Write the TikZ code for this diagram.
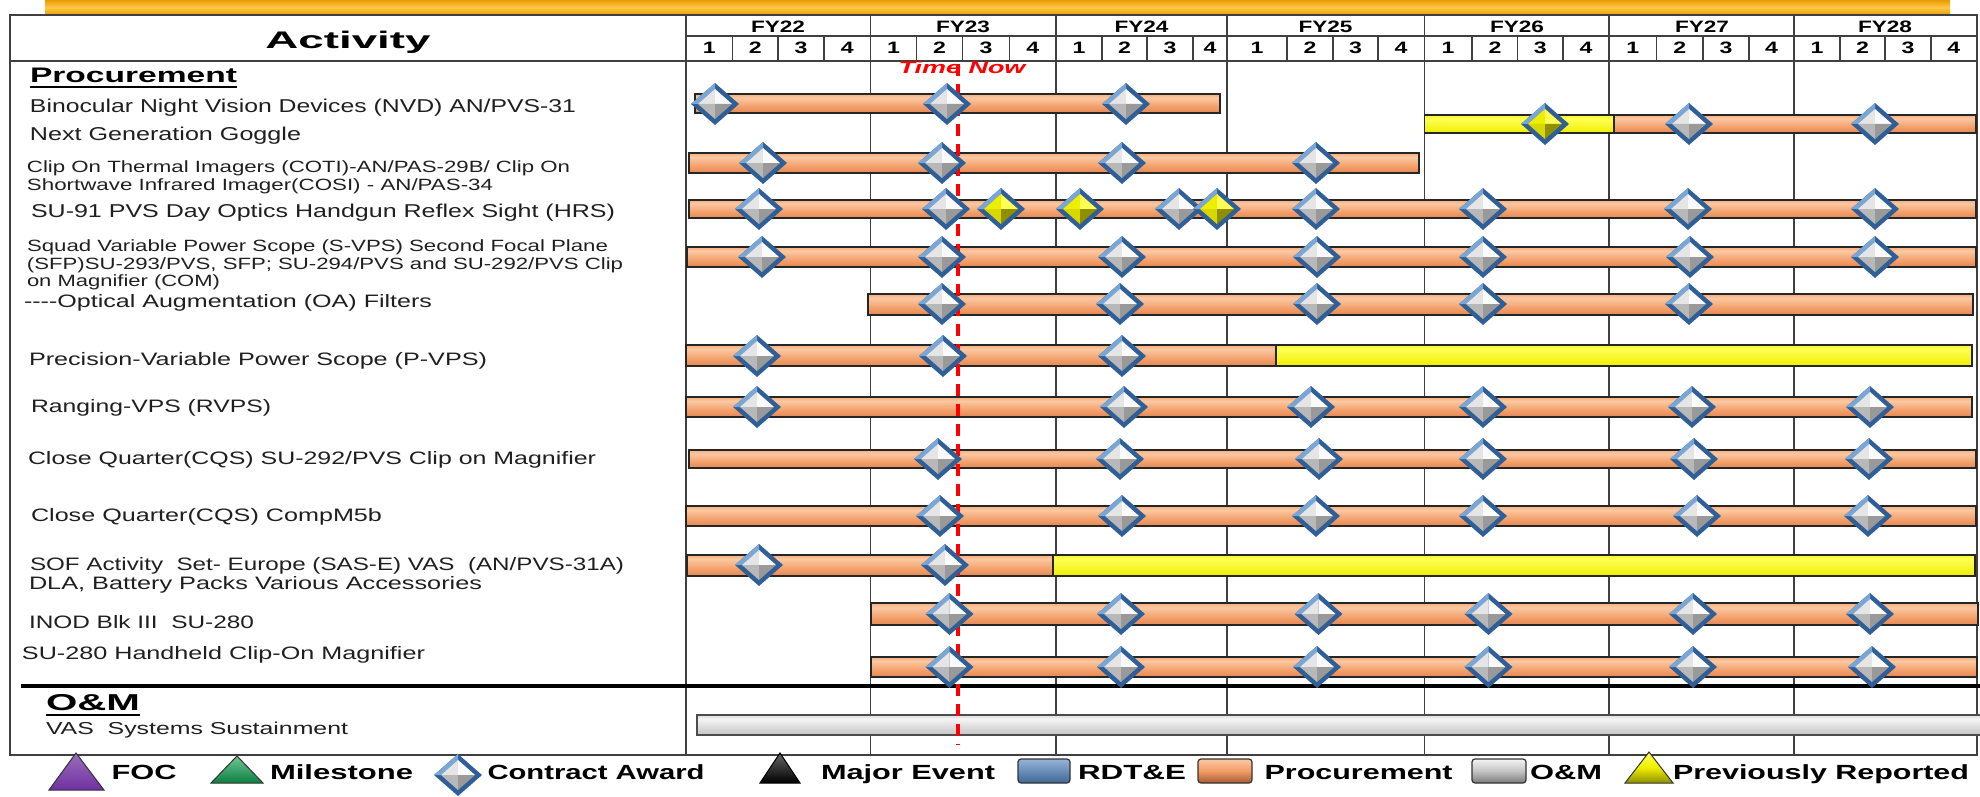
\documentclass[tikz,border=0pt]{standalone}
\usepackage{fontspec}
\setmainfont{Liberation Sans}
\usepackage{graphicx}
\newcommand\fw[2]{\resizebox{#1pt}{\height}{#2}}
\newcommand\hs[2]{\scalebox{#1}[1]{#2}}
\definecolor{orA}{HTML}{A85A30}
\definecolor{orE}{HTML}{D98050}
\definecolor{orB}{HTML}{F29C66}
\definecolor{orC}{HTML}{FBC8A2}
\definecolor{orD}{HTML}{C8784A}
\definecolor{yeA}{HTML}{8F8F00}
\definecolor{yeB}{HTML}{EEEE00}
\definecolor{yeC}{HTML}{FFFF55}
\definecolor{yeD}{HTML}{D8D800}
\definecolor{grA}{HTML}{7A7A7A}
\definecolor{grB}{HTML}{C4C4C4}
\definecolor{grC}{HTML}{F4F4F4}
\definecolor{grD}{HTML}{BDBDBD}
\definecolor{tbA}{HTML}{8A5A00}
\definecolor{tbB}{HTML}{E89A00}
\definecolor{tbC}{HTML}{FFC848}
\definecolor{dblue}{HTML}{2F5F96}
\definecolor{mblue}{HTML}{7AA6D6}
\definecolor{pur}{HTML}{7030A0}
\definecolor{grn}{HTML}{10A050}
\definecolor{rdblue}{HTML}{4F81BD}
\pgfdeclareverticalshading{procsh}{100bp}{color(0bp)=(orA); color(18bp)=(orE); color(40bp)=(orB); color(65bp)=(orC); color(82bp)=(orB); color(100bp)=(orD)}
\pgfdeclareverticalshading{yelsh}{100bp}{color(0bp)=(yeA); color(25bp)=(yeB); color(65bp)=(yeC); color(85bp)=(yeB); color(100bp)=(yeD)}
\pgfdeclareverticalshading{graysh}{100bp}{color(0bp)=(grA); color(25bp)=(grB); color(65bp)=(grC); color(85bp)=(grB); color(100bp)=(grD)}
\pgfdeclareverticalshading{topsh}{100bp}{color(0bp)=(tbA); color(20bp)=(tbB); color(50bp)=(tbC); color(80bp)=(tbB); color(100bp)=(tbA)}
\newcommand\dmdbody[4]{%
  \fill[dblue] (-24,0)--(0,-21)--(24,0)--(0,21)--cycle;
  \fill[mblue] (-24,0)--(0,-21)--(0,-15)--(-17,0)--cycle;
  \fill[#1] (-17,0)--(0,-15)--(0,0)--cycle;
  \fill[#2] (0,-15)--(17,0)--(0,0)--cycle;
  \fill[#3] (-17,0)--(0,15)--(0,0)--cycle;
  \fill[#4] (0,15)--(17,0)--(0,0)--cycle;
}
\tikzset{
  cawd/.pic={\dmdbody{black!10}{black!2}{black!28}{black!40}},
  yawd/.pic={\dmdbody{yeB}{yeC}{yeD}{yeA}},
  procbar/.style={shade, shading=procsh, draw=black!85, line width=1.3},
  yelbar/.style={shade, shading=yelsh, draw=black!85, line width=1.3},
  graybar/.style={shade, shading=graysh, draw=black!70, line width=1.3},
  grid/.style={draw=black!75, line width=1.3},
  lab/.style={inner sep=0pt, outer sep=0pt, anchor=base west, text=black!88, font=\fontsize{18.6}{20}\selectfont},
  slab/.style={lab, font=\fontsize{16.3}{18}\selectfont},
  mlab/.style={lab, font=\fontsize{18}{20}\selectfont},
  hdr/.style={inner sep=0pt, outer sep=0pt, anchor=base, font=\fontsize{16.5}{18}\selectfont\bfseries},
  leg/.style={inner sep=0pt, outer sep=0pt, anchor=base west, font=\fontsize{20.5}{22}\selectfont\bfseries},
}
\begin{document}
\begin{tikzpicture}[x=1pt,y=-1pt]
\useasboundingbox (0,0) rectangle (1980,797);
% top decorative bar
\path[shade, shading=topsh] (45,1) rectangle (1950,14);
% frame and grid
\draw[grid] (10,15) rectangle (1977,755);
\draw[grid] (686,15) -- (686,755);
\draw[grid] (686,36) -- (1977,36);
\draw[grid] (10,61) -- (1977,61);
\foreach \x in {870.6,1056,1227,1424.5,1609,1794} \draw[grid] (\x,15) -- (\x,755);
\foreach \x in {732.7,778,824,916.6,962.6,1009.5,1102,1147,1193,1287,1333,1378,1472,1517.7,1563,1656.5,1703,1749,1840,1885,1931}
  \draw[grid] (\x,36) -- (\x,61);
% header texts
\node[inner sep=0pt, anchor=base, font=\fontsize{24}{25}\selectfont\bfseries] (act) at (348,48.3) {\fw{165}{Activity}};
\foreach \c/\t [count=\i] in {778/FY22,963/FY23,1141.5/FY24,1325.5/FY25,1517/FY26,1702/FY27,1885/FY28}
  \node[hdr] (fy\i) at (\c,32.3) {\fw{54}{\t}};
\foreach \c/\t [count=\i] in {709.3/1,755.3/2,801/3,847.3/4,893.6/1,939.6/2,986/3,1032.7/4,1079/1,1124.5/2,1170/3,1210/4,1257/1,1310/2,1355.5/3,1401/4,1448/1,1495/2,1540.3/3,1586/4,1632.7/1,1679.7/2,1726/3,1771.5/4,1817/1,1862.5/2,1908/3,1953.7/4}
  \node[hdr] (q\i) at (\c,53.3) {\hs{1.4}{\t}};
% section titles
\node[lab, text=black, font=\fontsize{21}{22}\selectfont\bfseries] (proc) at (30,83) {\fw{207}{Procurement}};
\draw[line width=2.4] ([yshift=-4pt]proc.base west) -- ([yshift=-4pt]proc.base east);
\node[lab, text=black, font=\fontsize{23}{24}\selectfont\bfseries] (om) at (46,710) {\fw{94}{O\&M}};
\draw[line width=2.6] ([yshift=-5pt]om.base west) -- ([yshift=-5pt]om.base east);
% row labels
\node[lab] (l1) at (30,112.7) {\fw{546}{Binocular Night Vision Devices (NVD) AN/PVS-31}};
\node[lab] (l2) at (30,141) {\fw{271}{Next Generation Goggle}};
\node[slab] (l3a) at (27,172.3) {\fw{543}{Clip On Thermal Imagers (COTI)-AN/PAS-29B/ Clip On}};
\node[slab] (l3b) at (27,190) {\fw{466}{Shortwave Infrared Imager(COSI) - AN/PAS-34}};
\node[lab] (l4) at (31,217.3) {\fw{584}{SU-91 PVS Day Optics Handgun Reflex Sight (HRS)}};
\node[slab] (l5a) at (27,251.7) {\fw{581}{Squad Variable Power Scope (S-VPS) Second Focal Plane}};
\node[slab] (l5b) at (27,269.3) {\fw{596}{(SFP)SU-293/PVS, SFP; SU-294/PVS and SU-292/PVS Clip}};
\node[slab] (l5c) at (27,286.7) {\fw{193}{on Magnifier (COM)}};
\node[mlab] (l6) at (24,307.7) {\fw{408}{\mbox{-}\mbox{-}\mbox{-}\mbox{-}Optical Augmentation (OA) Filters}};
\node[mlab] (l7) at (29,365) {\fw{458}{Precision-Variable Power Scope (P-VPS)}};
\node[mlab] (l8) at (31,412.7) {\fw{240}{Ranging-VPS (RVPS)}};
\node[mlab] (l9) at (28,464.3) {\fw{568}{Close Quarter(CQS) SU-292/PVS Clip on Magnifier}};
\node[mlab] (l10) at (31,521.7) {\fw{351}{Close Quarter(CQS) CompM5b}};
\node[mlab] (l11a) at (30,570.7) {\fw{594}{SOF Activity\ \ Set- Europe (SAS-E) VAS\ \ (AN/PVS-31A)}};
\node[mlab] (l11b) at (29,589) {\fw{453}{DLA, Battery Packs Various Accessories}};
\node[mlab] (l12) at (29,628.3) {\fw{225}{INOD Blk III\ \ SU-280}};
\node[mlab] (l13) at (22,659.3) {\fw{403}{SU-280 Handheld Clip-On Magnifier}};
\node[lab, font=\fontsize{17.3}{19}\selectfont] (l14) at (46,734) {\fw{302}{VAS\ \ Systems Sustainment}};
% O&M separator
\draw[line width=3.2] (21,686) -- (1980,686);
% bars
\path[procbar] (695,94) rectangle (1220,113);
\path[yelbar] (1424.5,115) rectangle (1614,133);
\path[procbar] (1614,115) rectangle (1976,133);
\path[procbar] (689,153) rectangle (1419,173);
\path[procbar] (689,200) rectangle (1976,218);
\path[procbar] (687,247) rectangle (1976,267);
\path[procbar] (868,294) rectangle (1973,315);
\path[procbar] (686,345) rectangle (1276,366);
\path[yelbar] (1276,345) rectangle (1972,366);
\path[procbar] (686,397) rectangle (1972,417);
\path[procbar] (689,450) rectangle (1976,468);
\path[procbar] (686,506) rectangle (1976,526);
\path[procbar] (687,555) rectangle (1053,576);
\path[yelbar] (1053,555) rectangle (1975,576);
\path[procbar] (871,603) rectangle (1978,625);
\path[procbar] (871,657) rectangle (1977,677);
\path[graybar] (697,715) rectangle (1985,735);
% time now
\draw[red, line width=3.2, dash pattern=on 12pt off 8pt] (958,64) -- (958,745);
\node[inner sep=0pt, anchor=base, text=red, font=\fontsize{17}{18}\selectfont\bfseries\itshape] (tn) at (962,74) {\fw{127}{Time Now}};
% diamonds
\foreach \x in {715,947,1126} \pic at (\x,104) {cawd};
\pic at (1545,124) {yawd};
\foreach \x in {1689,1875} \pic at (\x,124) {cawd};
\foreach \x in {763,942,1122,1316} \pic at (\x,163) {cawd};
\foreach \x in {759,946,1179,1316,1483,1688,1875} \pic at (\x,209) {cawd};
\foreach \x in {1001,1080,1217} \pic at (\x,209) {yawd};
\foreach \x in {762,942,1122,1317,1483,1690,1875} \pic at (\x,257) {cawd};
\foreach \x in {942,1120,1317,1483,1689} \pic at (\x,304) {cawd};
\foreach \x in {757,943,1122} \pic at (\x,356) {cawd};
\foreach \x in {757,1124,1311,1483,1692,1870} \pic at (\x,407) {cawd};
\foreach \x in {938,1120,1319,1483,1694,1869} \pic at (\x,459) {cawd};
\foreach \x in {940,1122,1316,1483,1697,1868} \pic at (\x,516) {cawd};
\foreach \x in {759,945} \pic at (\x,565) {cawd};
\foreach \x in {949.5,1121,1318.5,1488.5,1693,1870} \pic at (\x,614) {cawd};
\foreach \x in {949.5,1121,1317,1488.5,1693,1872} \pic at (\x,667) {cawd};
% legend
\path[shade, top color=pur!70!white, bottom color=pur, draw=black!80, line width=1] (76,753) -- (104,790) -- (49,790) -- cycle;
\node[leg] (lg1) at (111.6,779) {\fw{65}{FOC}};
\path[shade, top color=grn!60!white, bottom color=grn!80!black, draw=black!80, line width=1] (237,756) -- (263,783) -- (211,783) -- cycle;
\node[leg] (lg2) at (270,779) {\fw{143}{Milestone}};
\pic at (458,775) {cawd};
\node[leg] (lg3) at (487.5,779) {\fw{217}{Contract Award}};
\path[shade, top color=black!60, bottom color=black, draw=black, line width=1] (780,753) -- (800,783) -- (760,783) -- cycle;
\node[leg] (lg4) at (821,779) {\fw{174}{Major Event}};
\path[shade, top color=rdblue!60!white, bottom color=rdblue!80!black, draw=black!80, line width=1.2, rounded corners=3] (1018,759) rectangle (1070,783);
\node[leg] (lg5) at (1078,779) {\fw{108}{RDT\&E}};
\path[shade, top color=orC, bottom color=orA, middle color=orB, draw=black!80, line width=1.2, rounded corners=3] (1198,759) rectangle (1252,783);
\node[leg] (lg6) at (1264.6,779) {\fw{188}{Procurement}};
\path[shade, top color=grC, bottom color=grA, middle color=grB, draw=black!80, line width=1.2, rounded corners=3] (1472,759) rectangle (1526,783);
\node[leg] (lg7) at (1530,779) {\fw{72}{O\&M}};
\path[shade, top color=yeC, bottom color=yeA, middle color=yeB, draw=black!80, line width=1] (1649,752) -- (1673,783) -- (1625,783) -- cycle;
\node[leg] (lg8) at (1673,779) {\fw{296}{Previously Reported}};
\end{tikzpicture}
\end{document}
